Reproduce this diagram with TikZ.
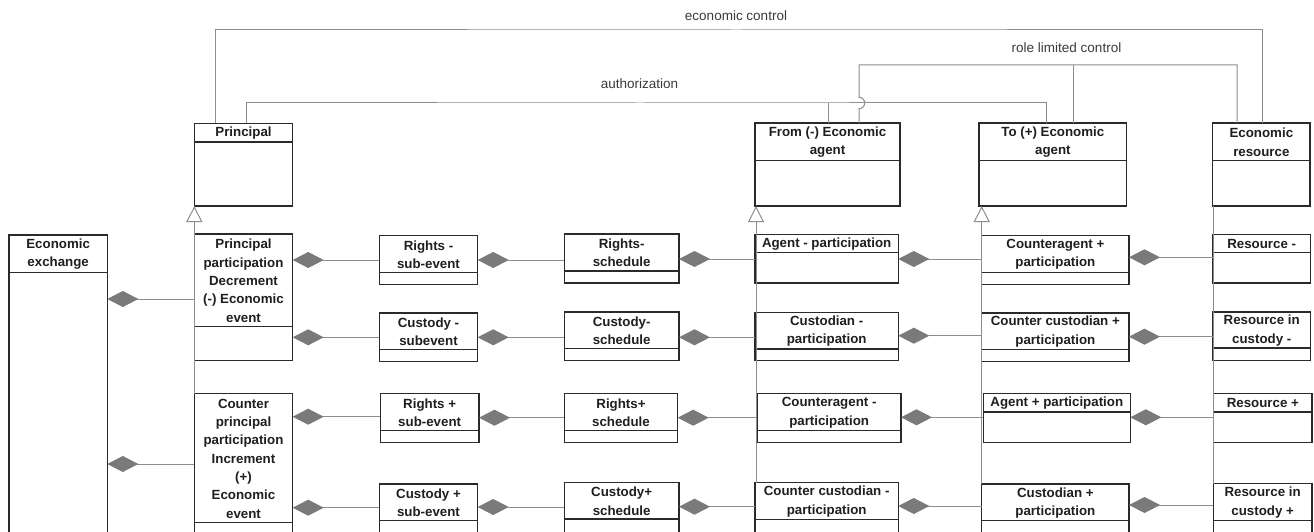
\documentclass[tikz,border=0pt]{standalone}
\usepackage{fontspec}
\setmainfont{Liberation Sans}
\usetikzlibrary{arrows.meta}
\definecolor{boxline}{HTML}{2A2A2A}
\definecolor{wire}{HTML}{8E8E8E}
\definecolor{diafill}{HTML}{7A7A7A}
\definecolor{labeltext}{HTML}{3A3A3A}

\tikzset{
  umlframe/.style={rectangle, draw=boxline, line width=1.4pt, fill=white, inner sep=0pt, outer sep=0pt},
  umlsep/.style={draw=boxline, line width=1.4pt},
  umltitle/.style={font=\bfseries\fontsize{13.3}{18.33}\selectfont, align=center, inner sep=0pt, text=black!88},
  wireline/.style={draw=wire, line width=1pt},
  comp/.style={wireline, {Diamond[length=31pt,width=16pt,fill=diafill,color=diafill]}-},
  genl/.style={wireline, -{Triangle[open,length=16pt,width=16pt,fill=white]}},
  assoclabel/.style={font=\fontsize{13.5}{15}\selectfont, text=labeltext, inner sep=0pt},
}

% class box: name, left, top, right, header line, bottom, title
\newcommand\umlbox[7]{%
  \pgfmathsetmacro\umlw{#4-(#2)}%
  \pgfmathsetmacro\umlh{#6-(#3)}%
  \node[umlframe, minimum width=\umlw pt, minimum height=\umlh pt, anchor=north west] (#1) at (#2,#3) {};
  \draw[umlsep] (#1.west |- 0,#5) -- (#1.east |- 0,#5);
  \node[umltitle] (#1-title) at ({(#2+#4)/2},{(#3+#5)/2+0.5}) {#7};
}

\begin{document}
\begin{tikzpicture}[x=1pt,y=-1pt]
\useasboundingbox (0,0) rectangle (1314,532);
\fill[white] (0,0) rectangle (1314,532);
\clip (0,0) rectangle (1314,532);

% ---- top row classes ----
\umlbox{principal}{194.3}{123.3}{292.7}{142}{206}{Principal}
\umlbox{fromAgent}{755}{123}{900}{160.3}{206}{From (-) Economic\\agent}
\umlbox{toAgent}{979}{123}{1126.7}{160.3}{206}{To (+) Economic\\agent}
\umlbox{resource}{1212.7}{123}{1310}{160.3}{206}{Economic\\resource}

% ---- associations between the top row classes ----
\coordinate (ecmid) at (736,30);
\coordinate (authmid) at (640,103);
\coordinate (rlmid) at (1066,65);
\draw[wireline] ([xshift=20.7pt]principal.north west) |- (ecmid) -| ([xshift=49.3pt]resource.north west);
\draw[wireline] ([xshift=51.7pt]principal.north west) |- (authmid) -| ([xshift=67pt]toAgent.north west);
\draw[wireline] ([xshift=73pt]fromAgent.north west) -- ++(0,-20.3);
\draw[wireline] ([xshift=104pt]fromAgent.north west) -- ++(0,-14.3)
  arc[start angle=-90,end angle=90,radius=5.7pt] |- (rlmid) -| ([xshift=24.3pt]resource.north west);
\draw[wireline] ([xshift=94pt]toAgent.north west) -- ++(0,-58);
\node[assoclabel] (eclabel) at (736,16) {economic control};
\node[assoclabel] (rllabel) at (1066.5,48) {role limited control};
\node[assoclabel] (authlabel) at (639.5,84) {authorization};

% ---- event, sub-event and schedule classes ----
\umlbox{exchange}{9}{235}{107.3}{272.3}{560}{Economic\\exchange}
\umlbox{ppDec}{194.3}{234}{292.7}{326.3}{360.7}{Principal\\participation\\Decrement\\(-) Economic\\event}
\umlbox{ppInc}{194.3}{393.7}{292.7}{522.7}{560}{Counter\\principal\\participation\\Increment\\(+)\\Economic\\event}

\umlbox{rightsMinus}{379.3}{235.7}{477.7}{272.3}{284.3}{Rights -\\sub-event}
\umlbox{custodyMinus}{379.3}{313}{477.7}{349.3}{361.7}{Custody -\\subevent}
\umlbox{rightsPlus}{380.3}{393.7}{479}{430.7}{442.7}{Rights +\\sub-event}
\umlbox{custodyPlus}{379.3}{484}{477.7}{520.7}{545}{Custody +\\sub-event}

\umlbox{rightsSched}{564.3}{234}{679}{271}{283}{Rights-\\schedule}
\umlbox{custodySched}{564.3}{312}{679}{348.3}{360.7}{Custody-\\schedule}
\umlbox{rightsPlusSched}{564.3}{393.7}{677.7}{430.7}{442.7}{Rights+\\schedule}
\umlbox{custodyPlusSched}{564.3}{482.3}{679}{519}{545}{Custody+\\schedule}

% generalization of both economic events to the principal
\draw[genl] (ppInc.north west) -- (principal.south west);

% ---- participation and resource classes ----
\umlbox{agentPart}{755}{234.7}{898.3}{252.3}{283}{Agent - participation}
\umlbox{custodianPart}{755}{312.3}{898.3}{349}{360.7}{Custodian -\\participation}
\umlbox{counteragentMinus}{757.3}{393.7}{901}{430.7}{442.7}{Counteragent -\\participation}
\umlbox{counterCustMinus}{755}{482.7}{898.3}{519.3}{545}{Counter custodian -\\participation}

\umlbox{counteragentPlus}{981.7}{235.3}{1129}{272.3}{284.3}{Counteragent +\\participation}
\umlbox{counterCustPlus}{981.7}{313}{1129}{349.3}{361.7}{Counter custodian +\\participation}
\umlbox{agentPlus}{983.3}{393.7}{1130.3}{412}{442.7}{Agent + participation}
\umlbox{custodianPlus}{981.7}{484}{1129}{520.7}{545}{Custodian +\\participation}

\umlbox{resMinus}{1212.7}{234.3}{1310.7}{252.3}{283}{Resource -}
\umlbox{resCustMinus}{1212.7}{312}{1310.7}{348}{360.3}{Resource in\\custody -}
\umlbox{resPlus}{1213.7}{393.7}{1312}{412}{442.7}{Resource +}
\umlbox{resCustPlus}{1213.3}{483.7}{1312}{520.7}{545}{Resource in\\custody +}

% generalization lines running along the left edges of the columns
\draw[genl] ([xshift=1pt]counterCustMinus.north west) -- ([xshift=1pt]fromAgent.south west);
\draw[genl] (custodianPlus.north west) -- (custodianPlus.north west |- toAgent.south);
\draw[wireline] (resCustPlus.north west) -- (resCustPlus.north west |- resource.south);

% ---- compositions (diamond at the whole) ----
\draw[comp] (exchange.east |- 0,299) -- (ppDec.west |- 0,299);
\draw[comp] (exchange.east |- 0,464) -- (ppInc.west |- 0,464);

\draw[comp] (ppDec.east |- 0,260) -- (rightsMinus.west |- 0,260);
\draw[comp] (ppDec.east |- 0,337.3) -- (custodyMinus.west |- 0,337.3);
\draw[comp] (ppInc.east |- 0,416.7) -- (rightsPlus.west |- 0,416.7);
\draw[comp] (ppInc.east |- 0,507.7) -- (custodyPlus.west |- 0,507.7);

\draw[comp] (rightsMinus.east |- 0,260) -- (rightsSched.west |- 0,260);
\draw[comp] (custodyMinus.east |- 0,337.3) -- (custodySched.west |- 0,337.3);
\draw[comp] (rightsPlus.east |- 0,417.7) -- (rightsPlusSched.west |- 0,417.7);
\draw[comp] (custodyPlus.east |- 0,507) -- (custodyPlusSched.west |- 0,507);

\draw[comp] (rightsSched.east |- 0,259) -- (agentPart.west |- 0,259);
\draw[comp] (custodySched.east |- 0,337.3) -- (custodianPart.west |- 0,337.3);
\draw[comp] (rightsPlusSched.east |- 0,417.7) -- (counteragentMinus.west |- 0,417.7);
\draw[comp] (custodyPlusSched.east |- 0,506.7) -- (counterCustMinus.west |- 0,506.7);

\draw[comp] (agentPart.east |- 0,259) -- (counteragentPlus.west |- 0,259);
\draw[comp] (custodianPart.east |- 0,335.7) -- (counterCustPlus.west |- 0,335.7);
\draw[comp] (counteragentMinus.east |- 0,417.3) -- (agentPlus.west |- 0,417.3);
\draw[comp] (counterCustMinus.east |- 0,506) -- (custodianPlus.west |- 0,506);

\draw[comp] (counteragentPlus.east |- 0,257.3) -- (resMinus.west |- 0,257.3);
\draw[comp] (counterCustPlus.east |- 0,336.7) -- (resCustMinus.west |- 0,336.7);
\draw[comp] (agentPlus.east |- 0,417.3) -- (resPlus.west |- 0,417.3);
\draw[comp] (custodianPlus.east |- 0,505) -- (resCustPlus.west |- 0,505);
\end{tikzpicture}
\end{document}
